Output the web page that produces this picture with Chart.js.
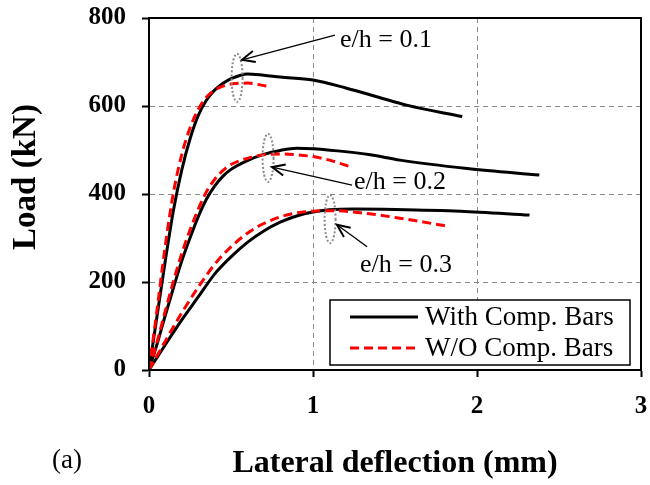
<!DOCTYPE html>
<html>
<head>
<meta charset="utf-8">
<script src="https://cdn.jsdelivr.net/npm/chart.js@4.4.1/dist/chart.umd.min.js"></script>
<style>
  html, body { margin: 0; padding: 0; background: #fff; }
  #wrap { width: 650px; height: 485px; }
</style>
</head>
<body>
<div id="wrap"><canvas id="chart" width="650" height="485"></canvas></div>
<script>
// ── DATA (lateral deflection in mm, load in kN) ──
const withX01 = [0, 0.05, 0.1, 0.15, 0.2, 0.25, 0.3, 0.35, 0.4, 0.45, 0.5, 0.6, 0.7, 0.8, 1.0, 1.2, 1.4, 1.57, 1.91];
const withY01 = [0, 125, 250, 365, 455, 525, 578, 613, 636, 651, 662, 673, 670, 666, 659, 641, 620, 602, 576];
const woX01 = [0, 0.05, 0.1, 0.15, 0.2, 0.25, 0.3, 0.35, 0.4, 0.45, 0.5, 0.6, 0.68, 0.73];
const woY01 = [0, 140, 285, 405, 490, 550, 592, 620, 636, 645, 650, 652, 648, 644];

const withX02 = [0, 0.05, 0.1, 0.15, 0.2, 0.25, 0.3, 0.35, 0.4, 0.45, 0.5, 0.6, 0.7, 0.8, 0.9, 1.0, 1.15, 1.35, 1.53, 1.94, 2.38];
const withY02 = [0, 60, 125, 188, 248, 300, 348, 388, 418, 440, 456, 476, 490, 499, 504, 503, 498, 489, 477, 458, 443];
const woX02 = [0, 0.05, 0.1, 0.15, 0.2, 0.25, 0.3, 0.35, 0.4, 0.45, 0.5, 0.6, 0.7, 0.8, 0.9, 1.0, 1.1, 1.226];
const woY02 = [0, 65, 135, 203, 265, 318, 365, 405, 433, 453, 467, 481, 489, 491, 489, 485, 477, 462];

const withX03 = [0, 0.1, 0.2, 0.3, 0.4, 0.5, 0.6, 0.7, 0.8, 0.9, 1.0, 1.1, 1.25, 1.5, 1.9, 2.32];
const withY03 = [0, 58, 114, 166, 218, 257, 290, 316, 336, 350, 359, 364, 366, 365, 361, 352];
const woX03 = [0, 0.1, 0.2, 0.3, 0.4, 0.5, 0.6, 0.7, 0.8, 0.9, 1.0, 1.12, 1.3, 1.53, 1.835];
const woY03 = [0, 66, 130, 188, 240, 280, 311, 333, 348, 357, 361, 362, 357, 345, 326];

const xTicks = [0, 1, 2, 3];
const yTicks = [0, 200, 400, 600, 800];
const seriesNames = ['With Comp. Bars', 'W/O Comp. Bars'];

// annotation anchors, in data units
const notes = [
  { label: 'e/h = 0.1', tx: 1.165, ty: 750, ax: 1.134, ay: 761, bx: 0.567, by: 705, rx: 0.537, ry: 664 },
  { label: 'e/h = 0.2', tx: 1.25, ty: 427, ax: 1.238, ay: 420, bx: 0.75, by: 461, rx: 0.726, ry: 482 },
  { label: 'e/h = 0.3', tx: 1.287, ty: 239, ax: 1.33, ay: 280, bx: 1.146, by: 330, rx: 1.104, ry: 343 }
];

const pts = (xs, ys) => xs.map((x, i) => ({ x, y: ys[i] }));
const serif = '"Liberation Serif", "Times New Roman", serif';

const solid = { borderColor: '#000', borderWidth: 3, borderDash: [] };
const dashed = { borderColor: '#ff0000', borderWidth: 3, borderDash: [9, 5] };

// red datasets first so they paint on top of the black ones
const datasets = [
  { label: seriesNames[1], data: pts(woX01, woY01), ...dashed },
  { label: seriesNames[1], data: pts(woX02, woY02), ...dashed },
  { label: seriesNames[1], data: pts(woX03, woY03), ...dashed },
  { label: seriesNames[0], data: pts(withX01, withY01), ...solid },
  { label: seriesNames[0], data: pts(withX02, withY02), ...solid },
  { label: seriesNames[0], data: pts(withX03, withY03), ...solid }
];

// ── EXTRAS: frame, notes, legend, titles ──
const extras = {
  id: 'extras',
  afterDraw(chart) {
    const { ctx, chartArea: a, scales: { x, y } } = chart;
    ctx.save();

    // frame
    ctx.strokeStyle = '#000';
    ctx.lineWidth = 2;
    ctx.setLineDash([]);
    ctx.strokeRect(a.left, a.top, a.right - a.left, a.bottom - a.top);

    // notes with arrows and dotted rings
    notes.forEach(n => {
      const rx = x.getPixelForValue(n.rx), ry = y.getPixelForValue(n.ry);
      ctx.strokeStyle = '#8a8a8a';
      ctx.lineWidth = 2;
      ctx.setLineDash([2, 2]);
      ctx.beginPath();
      ctx.ellipse(rx, ry, 5.5, 24, 0, 0, Math.PI * 2);
      ctx.stroke();

      const x1 = x.getPixelForValue(n.ax), y1 = y.getPixelForValue(n.ay);
      const x2 = x.getPixelForValue(n.bx), y2 = y.getPixelForValue(n.by);
      const ang = Math.atan2(y2 - y1, x2 - x1);
      ctx.setLineDash([]);
      ctx.strokeStyle = '#000';
      ctx.lineWidth = 1.3;
      ctx.beginPath();
      ctx.moveTo(x1, y1);
      ctx.lineTo(x2, y2);
      ctx.stroke();
      ctx.lineWidth = 2;
      ctx.beginPath();
      ctx.moveTo(x2 - 14 * Math.cos(ang - 0.42), y2 - 14 * Math.sin(ang - 0.42));
      ctx.lineTo(x2, y2);
      ctx.lineTo(x2 - 14 * Math.cos(ang + 0.42), y2 - 14 * Math.sin(ang + 0.42));
      ctx.stroke();

      ctx.fillStyle = '#000';
      ctx.font = '26px ' + serif;
      ctx.textAlign = 'left';
      ctx.textBaseline = 'middle';
      ctx.fillText(n.label, x.getPixelForValue(n.tx), y.getPixelForValue(n.ty));
    });

    // legend
    const lx = 330, ly = 300, lw = 300, lh = 65;
    ctx.fillStyle = '#fff';
    ctx.fillRect(lx, ly, lw, lh);
    ctx.strokeStyle = '#000';
    ctx.lineWidth = 1.5;
    ctx.strokeRect(lx, ly, lw, lh);
    [datasets[3], datasets[0]].forEach((ds, i) => {
      const yy = ly + 17 + i * 31;
      ctx.strokeStyle = ds.borderColor;
      ctx.lineWidth = ds.borderWidth;
      ctx.setLineDash(ds.borderDash);
      ctx.beginPath();
      ctx.moveTo(lx + 20, yy);
      ctx.lineTo(lx + 88, yy);
      ctx.stroke();
      ctx.setLineDash([]);
      ctx.fillStyle = '#000';
      ctx.font = '27px ' + serif;
      ctx.textAlign = 'left';
      ctx.textBaseline = 'middle';
      ctx.fillText(ds.label, lx + 95, yy + 1);
    });

    // axis titles and panel tag
    ctx.fillStyle = '#000';
    ctx.textAlign = 'center';
    ctx.textBaseline = 'middle';
    ctx.font = 'bold 32px ' + serif;
    ctx.fillText('Lateral deflection (mm)', 395, 464);
    ctx.save();
    ctx.translate(26, 177);
    ctx.rotate(-Math.PI / 2);
    ctx.font = 'bold 33px ' + serif;
    ctx.fillText('Load (kN)', 0, 0);
    ctx.restore();
    ctx.font = '27px ' + serif;
    ctx.fillText('(a)', 67, 461);

    ctx.restore();
  }
};

const tickFont = { family: serif, size: 25, weight: 'bold' };

new Chart(document.getElementById('chart'), {
  type: 'line',
  data: { datasets },
  options: {
    responsive: false,
    animation: false,
    events: [],
    layout: { padding: { top: 18, right: 9, left: 0, bottom: 0 } },
    elements: {
      point: { radius: 0 },
      line: { cubicInterpolationMode: 'monotone', fill: false, borderCapStyle: 'butt' }
    },
    plugins: { legend: { display: false }, tooltip: { enabled: false } },
    scales: {
      x: {
        type: 'linear',
        min: xTicks[0],
        max: xTicks[xTicks.length - 1],
        afterFit: s => { s.height = 115; s.paddingLeft = 0; s.paddingRight = 0; },
        afterBuildTicks: s => { s.ticks = xTicks.map(v => ({ value: v })); },
        ticks: { font: tickFont, color: '#000', padding: 15 },
        grid: { color: '#8a8a8a', lineWidth: 1, tickColor: '#000', tickWidth: 2, tickLength: 7 },
        border: { display: true, color: '#000', width: 2, dash: [5, 4] }
      },
      y: {
        type: 'linear',
        min: yTicks[0],
        max: yTicks[yTicks.length - 1],
        afterFit: s => { s.width = 149; s.paddingTop = 0; s.paddingBottom = 0; },
        afterBuildTicks: s => { s.ticks = yTicks.map(v => ({ value: v })); },
        ticks: { font: tickFont, color: '#000', padding: 16 },
        grid: { color: '#8a8a8a', lineWidth: 1, tickColor: '#000', tickWidth: 2, tickLength: 7 },
        border: { display: true, color: '#000', width: 2, dash: [5, 4] }
      }
    }
  },
  plugins: [extras]
});
</script>
</body>
</html>
